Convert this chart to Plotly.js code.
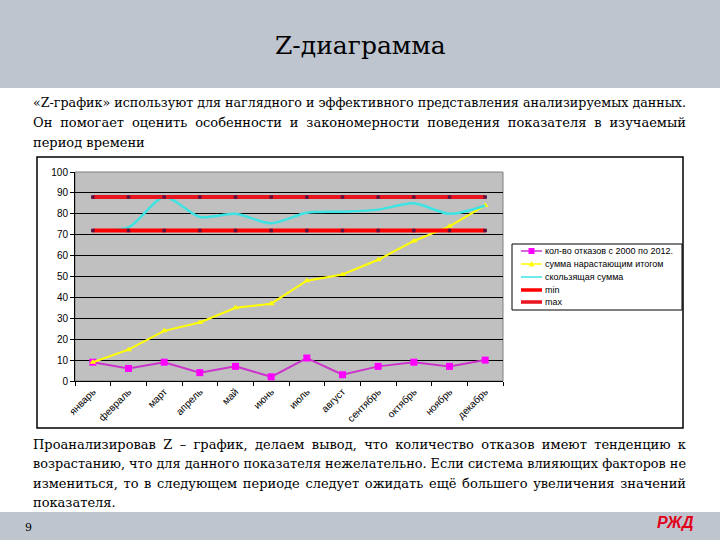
<!DOCTYPE html>
<html>
<head>
<meta charset="utf-8">
<script src="https://cdn.plot.ly/plotly-3.0.1.min.js"></script>
<style>
  html, body { margin: 0; padding: 0; background: #fff; }
  #wrap { position: relative; width: 720px; height: 540px; overflow: hidden; }
  #chart { position: absolute; left: 0; top: 0; width: 720px; height: 540px; }
  .ln { position: absolute; left: 33px; width: 653px; font-family: "DejaVu Serif", "Liberation Serif", serif;
        font-size: 13px; line-height: 16px; color: #000; white-space: nowrap; transform-origin: 0 0; }
  .j { text-align: justify; text-align-last: justify; }
  .probe { position: absolute; visibility: hidden; white-space: nowrap; font-family: "DejaVu Serif", "Liberation Serif", serif; font-size: 13px; }
</style>
</head>
<body>
<div id="wrap">
  <div id="chart"></div>
</div>
<script>
const months = ["январь","февраль","март","апрель","май","июнь","июль","август","сентябрь","октябрь","ноябрь","декабрь"];
const failures = [9, 6, 9, 4, 7, 2, 11, 3, 7, 9, 7, 10];
const cumulative = [9, 15, 24, 28, 35, 37, 48, 51, 58, 67, 74, 84];
const movingSum = [72, 73.5, 88, 78.5, 80, 75.5, 80.5, 81, 82, 85, 80, 84];
const minValues = [72, 72, 72, 72, 72, 72, 72, 72, 72, 72, 72, 72];
const maxValues = [88, 88, 88, 88, 88, 88, 88, 88, 88, 88, 88, 88];
const seriesNames = ["кол-во отказов с 2000 по 2012.", "сумма нарастающим итогом", "скользящая сумма", "min", "max"];
const yTicks = [0, 10, 20, 30, 40, 50, 60, 70, 80, 90, 100];

const slideTitle = "Z-диаграмма";
const introLines = [
  "«Z-график» используют для наглядного и эффективного представления анализируемых данных.",
  "Он помогает оценить особенности и закономерности поведения показателя в изучаемый",
  "период времени"
];
const conclusionLines = [
  "Проанализировав Z – график, делаем вывод, что количество отказов имеют тенденцию к",
  "возрастанию, что для данного показателя нежелательно. Если система влияющих факторов не",
  "измениться, то в следующем периоде следует ожидать ещё большего увеличения значений",
  "показателя."
];
const pageNumber = "9";
const logoText = "РЖД";

const wrap = document.getElementById('wrap');
const LINE_W = 653;
function addLines(lines, topStart, step) {
  lines.forEach((t, i) => {
    const probe = document.createElement('span');
    probe.className = 'probe';
    probe.textContent = t;
    wrap.appendChild(probe);
    const natural = probe.getBoundingClientRect().width;
    wrap.removeChild(probe);
    const d = document.createElement('div');
    const last = i === lines.length - 1;
    d.className = 'ln';
    d.style.top = (topStart + i * step) + 'px';
    d.textContent = t;
    if (natural > LINE_W) {
      d.style.width = natural + 'px';
      d.style.transform = 'scaleX(' + (LINE_W / natural) + ')';
    } else if (!last) {
      d.className = 'ln j';
    }
    wrap.appendChild(d);
  });
}
addLines(introLines, 95, 20);
addLines(conclusionLines, 437, 19.3);

const W = 720, H = 540;
const px = x => x / W;
const py = y => 1 - y / H;

const colors = ['#CC33CC', '#FFFF00', '#3EE3E3', '#FF0000', '#E8141E'];
const markerColors = ['#FF00FF', '#FFFF00', null, '#5A1040', '#5A1040'];

const traces = [
  { x: months, y: failures, name: seriesNames[0], type: 'scatter', mode: 'lines+markers',
    line: { color: colors[0], width: 2 }, marker: { symbol: 'square', size: 7, color: markerColors[0] } },
  { x: months, y: cumulative, name: seriesNames[1], type: 'scatter', mode: 'lines+markers',
    line: { color: colors[1], width: 2 }, marker: { symbol: 'triangle-up', size: 6, color: markerColors[1] } },
  { x: months, y: movingSum, name: seriesNames[2], type: 'scatter', mode: 'lines',
    line: { color: colors[2], width: 2.5, shape: 'spline', smoothing: 0.8 } },
  { x: months, y: minValues, name: seriesNames[3], type: 'scatter', mode: 'lines+markers',
    line: { color: colors[3], width: 4 }, marker: { symbol: 'square', size: 3.5, color: markerColors[3] } },
  { x: months, y: maxValues, name: seriesNames[4], type: 'scatter', mode: 'lines+markers',
    line: { color: colors[4], width: 4 }, marker: { symbol: 'square', size: 3.5, color: markerColors[4] } }
];

const rowY = [251, 264, 277, 290, 302];
const legendShapes = [
  { type: 'rect', xref: 'paper', yref: 'paper', x0: px(512), x1: px(682), y0: py(310), y1: py(244),
    fillcolor: '#FFFFFF', line: { color: '#000', width: 1 } }
];
const legendAnn = [];
seriesNames.forEach((n, i) => {
  const w = i >= 3 ? 3.5 : 1.5;
  legendShapes.push({ type: 'line', xref: 'paper', yref: 'paper', x0: px(521), x1: px(542), y0: py(rowY[i]), y1: py(rowY[i]),
    line: { color: colors[i], width: w } });
  legendAnn.push({ text: n, xref: 'paper', yref: 'paper', x: px(543), y: py(rowY[i]), xanchor: 'left', yanchor: 'middle',
    showarrow: false, font: { family: 'Liberation Sans, Arial, sans-serif', size: 9, color: '#000' } });
});
legendShapes.push({ type: 'rect', xref: 'paper', yref: 'paper', x0: px(528.5), x1: px(534.5), y0: py(rowY[0] + 3), y1: py(rowY[0] - 3),
  fillcolor: markerColors[0], line: { width: 0 } });
legendShapes.push({ type: 'path', xref: 'paper', yref: 'paper',
  path: `M ${px(528.5)} ${py(rowY[1] + 2.5)} L ${px(534.5)} ${py(rowY[1] + 2.5)} L ${px(531.5)} ${py(rowY[1] - 3)} Z`,
  fillcolor: markerColors[1], line: { width: 0 } });

const tickFont = { family: 'Liberation Sans, Arial, sans-serif', size: 10, color: '#000' };
const serif = '"DejaVu Serif", "Liberation Serif", serif';

const layout = {
  width: W, height: H,
  margin: { l: 0, r: 0, t: 0, b: 0 },
  paper_bgcolor: '#FFFFFF',
  plot_bgcolor: '#C0C0C0',
  font: { family: 'Liberation Sans, Arial, sans-serif', size: 9, color: '#000' },
  showlegend: false,
  xaxis: {
    domain: [px(75), px(503)],
    type: 'category',
    range: [-0.5, 11.5],
    tickangle: -45,
    ticks: 'outside', ticklen: 4, tickcolor: '#000', tickson: 'boundaries',
    showline: true, linecolor: '#000', linewidth: 1,
    showgrid: false, zeroline: false,
    tickfont: tickFont
  },
  yaxis: {
    domain: [py(381), py(172)],
    range: [0, 100],
    tickvals: yTicks,
    ticks: 'outside', ticklen: 4, tickcolor: '#000',
    showline: true, linecolor: '#000', linewidth: 1,
    showgrid: true, gridcolor: '#000', gridwidth: 1,
    zeroline: false,
    tickfont: tickFont
  },
  shapes: [
    { type: 'rect', xref: 'paper', yref: 'paper', x0: 0, x1: 1, y0: py(88), y1: 1,
      fillcolor: '#BFC5CF', line: { width: 0 }, layer: 'below' },
    { type: 'rect', xref: 'paper', yref: 'paper', x0: 0, x1: 1, y0: 0, y1: py(512),
      fillcolor: '#BFC5CF', line: { width: 0 }, layer: 'below' },
    { type: 'rect', xref: 'paper', yref: 'paper', x0: px(37), x1: px(683), y0: py(428), y1: py(157),
      fillcolor: 'rgba(0,0,0,0)', line: { color: '#000', width: 1.5 }, layer: 'below' },
    { type: 'rect', xref: 'paper', yref: 'paper', x0: px(75), x1: px(503), y0: py(381), y1: py(172),
      fillcolor: 'rgba(0,0,0,0)', line: { color: '#808080', width: 1 }, layer: 'below' }
  ].concat(legendShapes),
  annotations: [
    { text: slideTitle, xref: 'paper', yref: 'paper', x: 0.5, y: py(46), xanchor: 'center', yanchor: 'middle',
      showarrow: false, font: { family: serif, size: 25, color: '#000' } },
    { text: pageNumber, xref: 'paper', yref: 'paper', x: px(28), y: py(527), xanchor: 'center', yanchor: 'middle',
      showarrow: false, font: { family: serif, size: 11, color: '#000' } },
    { text: '<b><i>' + logoText + '</i></b>', xref: 'paper', yref: 'paper', x: px(675), y: py(522), xanchor: 'center', yanchor: 'middle',
      showarrow: false, font: { family: 'Liberation Sans, Arial, sans-serif', size: 16, color: '#E2001A' } }
  ].concat(legendAnn)
};

Plotly.newPlot('chart', traces, layout, { staticPlot: true, displayModeBar: false });
</script>
</body>
</html>
